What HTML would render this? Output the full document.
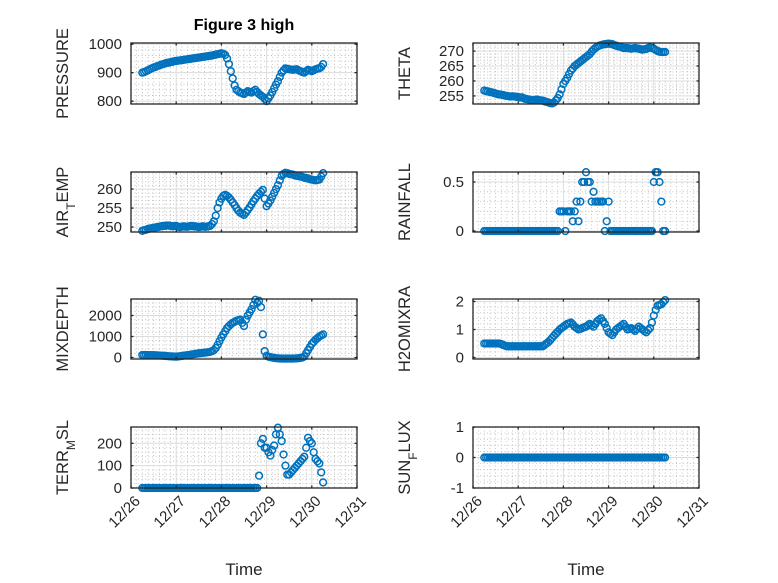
<!DOCTYPE html>
<html><head><meta charset="utf-8"><style>
html,body{margin:0;padding:0;background:#fff;}
svg{display:block;font-family:"Liberation Sans","DejaVu Sans",sans-serif;}
</style></head><body>
<svg id="fig" width="778" height="583" viewBox="0 0 778 583" xmlns="http://www.w3.org/2000/svg">
<rect x="0" y="0" width="778" height="583" fill="#fff"/>
<text x="244" y="30" text-anchor="middle" font-size="16" font-weight="bold" fill="#000">Figure 3 high</text>
<text x="244" y="575" text-anchor="middle" font-size="17" fill="#262626">Time</text>
<text x="586" y="575" text-anchor="middle" font-size="17" fill="#262626">Time</text>
</svg>
<script>
const times = [];
for (let i = 0; i < 97; i++) times.push(0.25 + i / 24);
const dayLabels = ["12/26","12/27","12/28","12/29","12/30","12/31"];
const pressure = [900,902,905,908,912,915,918,920,923,925,928,930,932,934,935,937,938,940,941,942,943,944,945,946,947,948,949,950,951,952,953,954,955,956,957,958,959,960,962,963,965,966,968,966,962,950,930,905,880,855,840,835,830,828,825,830,835,832,830,835,840,832,825,820,815,808,800,810,820,832,845,858,870,885,900,908,915,913,912,911,910,911,912,908,905,902,900,905,910,908,905,908,912,914,915,920,930];
const theta = [256.8,256.6,256.5,256.3,256.2,256,255.8,255.6,255.5,255.4,255.3,255.1,255,254.9,254.8,254.9,254.8,254.7,254.6,254.5,254.5,254.2,254,253.9,253.8,253.6,253.5,253.7,253.8,253.6,253.5,253.4,253.2,253,252.8,252.6,252.5,252.8,253.5,254.3,255.5,257.2,259,260,261,262.3,263.5,264.2,265,265.5,266,266.5,267,267.5,268,268.5,269,269.8,270.5,271,271.5,271.8,272,272.2,272.3,272.4,272.5,272.4,272.3,272,271.8,271.6,271.5,271.2,271,271,271,270.9,270.8,270.9,271,270.9,270.8,270.6,270.5,270.6,270.7,271,271.3,271,270.8,270.4,270,269.8,269.7,269.7,269.7];
const airTemp = [249,249.2,249.3,249.5,249.6,249.7,249.8,249.9,250,250.1,250.2,250.3,250.3,250.4,250.4,250.3,250.2,250.3,250.3,250.1,250,250.1,250.2,250.1,250.1,250.2,250.3,250.2,250.2,250.1,250,250.1,250.2,250.1,250.1,250.2,250.3,250.8,251.5,253,255,256.5,257.5,258.2,258.5,258.2,257.8,257.2,256.5,255.8,255,254.3,253.8,253.5,253.2,253.8,254.5,255.2,256,256.8,257.5,258.2,258.8,259.3,259.8,257.5,255.5,256.2,257,258,259,260,261,262.3,263.5,264,264.3,264.2,264,263.9,263.8,263.6,263.5,263.4,263.3,263.2,263,262.9,262.8,262.6,262.5,262.4,262.3,262.4,262.5,263.3,264.2];
const rainfall = [0,0,0,0,0,0,0,0,0,0,0,0,0,0,0,0,0,0,0,0,0,0,0,0,0,0,0,0,0,0,0,0,0,0,0,0,0,0,0,0,0.2,0.2,0.2,0,0.2,0.2,0.2,0.1,0.2,0.3,0.1,0.3,0.5,0.5,0.6,0.5,0.5,0.3,0.4,0.3,0.3,0.3,0.3,0.3,0,0.1,0.3,0,0,0,0,0,0,0,0,0,0,0,0,0,0,0,0,0,0,0,0,0,0,0,0.5,0.6,0.6,0.5,0.3,0,0];
const mixDepth = [120,120,120,115,110,110,110,105,100,95,90,85,80,70,60,55,50,45,40,50,60,75,90,100,110,125,140,155,170,185,200,210,220,230,240,255,270,300,350,450,600,780,950,1100,1250,1400,1500,1580,1650,1700,1750,1780,1800,1650,1500,1800,2000,2150,2300,2500,2750,2600,2700,2400,1100,300,80,40,20,0,-20,-30,-40,-45,-50,-50,-50,-50,-50,-50,-50,-45,-40,-30,-20,0,50,200,350,500,650,750,850,920,1000,1050,1100];
const h2oMix = [.5,.5,.5,.5,.5,.5,.5,.5,.5,.48,.45,.42,.4,.4,.4,.4,.4,.4,.4,.4,.4,.4,.4,.4,.4,.4,.4,.4,.4,.4,.4,.4,.45,.5,.55,.62,.7,.78,.85,.92,1.0,1.05,1.1,1.15,1.2,1.22,1.25,1.18,1.1,1.05,1.0,1.02,1.05,1.08,1.1,1.15,1.2,1.15,1.1,1.2,1.3,1.35,1.4,1.3,1.2,1.05,.9,.85,.8,.9,1.0,1.05,1.1,1.15,1.2,1.1,1.0,1.02,1.05,1.0,.95,1.02,1.1,1.05,1.0,.95,.9,.98,1.05,1.25,1.5,1.7,1.85,1.88,1.9,1.98,2.05];
const terrMsl = [0,0,0,0,0,0,0,0,0,0,0,0,0,0,0,0,0,0,0,0,0,0,0,0,0,0,0,0,0,0,0,0,0,0,0,0,0,0,0,0,0,0,0,0,0,0,0,0,0,0,0,0,0,0,0,0,0,0,0,0,0,0,55,200,220,180,180,160,145,170,190,240,270,240,210,150,100,60,60,70,80,90,100,110,120,130,140,180,225,210,200,160,130,120,110,70,25];
const sunFlux = [0,0,0,0,0,0,0,0,0,0,0,0,0,0,0,0,0,0,0,0,0,0,0,0,0,0,0,0,0,0,0,0,0,0,0,0,0,0,0,0,0,0,0,0,0,0,0,0,0,0,0,0,0,0,0,0,0,0,0,0,0,0,0,0,0,0,0,0,0,0,0,0,0,0,0,0,0,0,0,0,0,0,0,0,0,0,0,0,0,0,0,0,0,0,0,0,0];
const pressureTicks = [800,900,1000];
const thetaTicks = [255,260,265,270];
const airTicks = [250,255,260];
const rainTicks = [0,0.5];
const mixTicks = [0,1000,2000];
const h2oTicks = [0,1,2];
const terrTicks = [0,100,200];
const sunTicks = [-1,0,1];

const NS = "http://www.w3.org/2000/svg";
const svg = document.getElementById("fig");
function mk(tag, attrs, parent) {
  const e = document.createElementNS(NS, tag);
  for (const k in attrs) e.setAttribute(k, attrs[k]);
  (parent || svg).appendChild(e);
  return e;
}
const panels = [
  {key:"pressure", vals:pressure, ticks:pressureTicks, minor:20, lim:[790,1004], col:0, row:0, label:["PRESSURE"]},
  {key:"theta", vals:theta, ticks:thetaTicks, minor:1, lim:[252.3,272.7], col:1, row:0, label:["THETA"]},
  {key:"air-temp", vals:airTemp, ticks:airTicks, minor:1, lim:[248.7,264.5], col:0, row:1, label:["AIR","T","EMP"]},
  {key:"rainfall", vals:rainfall, ticks:rainTicks, minor:0.1, lim:[-0.01,0.602], col:1, row:1, label:["RAINFALL"]},
  {key:"mixdepth", vals:mixDepth, ticks:mixTicks, minor:200, lim:[-71,2786], col:0, row:2, label:["MIXDEPTH"]},
  {key:"h2omixra", vals:h2oMix, ticks:h2oTicks, minor:0.2, lim:[-0.054,2.09], col:1, row:2, label:["H2OMIXRA"]},
  {key:"terr-msl", vals:terrMsl, ticks:terrTicks, minor:20, lim:[0,273], col:0, row:3, label:["TERR","M","SL"]},
  {key:"sun-flux", vals:sunFlux, ticks:sunTicks, minor:0.2, lim:[-1,1], col:1, row:3, label:["SUN","F","LUX"]}
];
const colX = [[131,357],[473,699]];
const rowY = [[43,104],[172,232],[299,359],[427,488]];

panels.forEach(p => {
  const [x0,x1] = colX[p.col];
  const [y0,y1] = rowY[p.row];
  const xs = d => x0 + (d/5)*(x1-x0);
  const ys = v => y1 - (v-p.lim[0])/(p.lim[1]-p.lim[0])*(y1-y0);
  const g = mk("g", {});
  
  
  mk("rect", {x:x0,y:y0,width:x1-x0,height:y1-y0,fill:"#fff"}, g);
  for (let d = 0; d < 5; d += 0.125) {
    if (Math.abs(d - Math.round(d)) < 1e-6) continue;
    mk("line",{x1:xs(d),x2:xs(d),y1:y0,y2:y1,stroke:"#b8b8b8","stroke-width":0.8,"stroke-dasharray":"1 2.5"}, g);
  }
  const start = Math.ceil(p.lim[0]/p.minor);
  for (let k = start; k*p.minor <= p.lim[1]; k++) {
    const v = k*p.minor;
    if (p.ticks.some(t => Math.abs(t-v) < 1e-9)) continue;
    mk("line",{x1:x0,x2:x1,y1:ys(v),y2:ys(v),stroke:"#b8b8b8","stroke-width":0.8,"stroke-dasharray":"1 2.5"}, g);
  }
  for (let d = 1; d < 5; d++) mk("line",{x1:xs(d),x2:xs(d),y1:y0,y2:y1,stroke:"#dcdcdc","stroke-width":1}, g);
  p.ticks.forEach(t => {
    mk("line",{x1:x0,x2:x1,y1:ys(t),y2:ys(t),stroke:"#dcdcdc","stroke-width":1}, g);
  });
  const dg = mk("g", {}, g);
  
  
  p.vals.forEach((v,i) => {
    const c = mk("circle",{cx:xs(times[i]).toFixed(2),cy:ys(v).toFixed(2),r:3.4,fill:"none",stroke:"#0072BD","stroke-width":1.5}, dg);
    
    
  });
  mk("rect",{x:x0,y:y0,width:x1-x0,height:y1-y0,fill:"none",stroke:"#262626","stroke-width":1.3}, g);
  for (let d = 0; d <= 5; d++) {
    mk("line",{x1:xs(d),x2:xs(d),y1:y1,y2:y1-2.5,stroke:"#262626","stroke-width":1.3}, g);
    mk("line",{x1:xs(d),x2:xs(d),y1:y0,y2:y0+2.5,stroke:"#262626","stroke-width":1.3}, g);
  }
  p.ticks.forEach(t => {
    mk("line",{x1:x0,x2:x0+2.5,y1:ys(t),y2:ys(t),stroke:"#262626","stroke-width":1.3}, g);
    mk("line",{x1:x1,x2:x1-2.5,y1:ys(t),y2:ys(t),stroke:"#262626","stroke-width":1.3}, g);
    const tl = mk("text",{x:x0-9,y:ys(t)+5,"text-anchor":"end","font-size":15,fill:"#262626"}, g);
    tl.textContent = String(t);
    
    
  });
  const lx = x0 - 63;
  const ly = (y0+y1)/2;
  const yl = mk("text",{transform:`translate(${lx},${ly}) rotate(-90)`,"text-anchor":"middle","font-size":16.5,fill:"#262626"}, g);
  
  
  if (p.label.length === 1) {
    yl.textContent = p.label[0];
  } else {
    const a = mk("tspan",{},yl); a.textContent = p.label[0];
    const b = mk("tspan",{dy:7,"font-size":12},yl); b.textContent = p.label[1];
    const c = mk("tspan",{dy:-7},yl); c.textContent = p.label[2];
  }
  if (p.row === 3) {
    dayLabels.forEach((lab,d) => {
      const t = mk("text",{transform:`translate(${xs(d)+10},${y1+14}) rotate(-45)`,"text-anchor":"end","font-size":15,fill:"#262626"}, g);
      t.textContent = lab;
      
      
    });
  }
});
</script>
</body></html>
